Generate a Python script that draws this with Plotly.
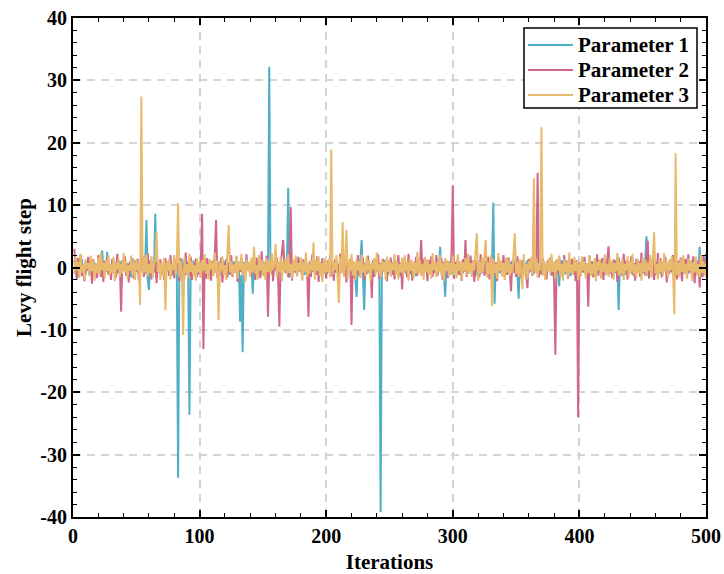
import plotly.graph_objects as go

iterations = list(range(1, 501))

param1 = [
    1.2,-0.8,0.5,-1.6,0.9,-0.3,1.4,-0.6,0.2,-1.1,0.7,-0.4,1.0,-0.9,0.3,-0.2,0.8,-1.3,0.6,-0.5,1.1,-0.7,2.7,-0.4,0.9,
    -0.6,2.5,-1.0,0.4,-0.8,1.3,-0.2,0.6,-1.4,0.8,-0.3,1.0,-0.9,0.2,-0.5,1.2,-1.1,0.7,-0.4,0.9,-1.6,0.5,-0.2,1.1,-0.7,
    0.4,-1.2,0.8,-0.5,1.5,-0.9,0.3,7.6,-1.8,-3.6,1.2,-0.6,0.9,-0.4,8.6,-1.5,0.6,-0.8,1.1,-0.3,0.7,-1.2,0.5,-0.6,1.0,
    -0.5,0.8,-1.3,0.4,-0.7,1.2,-0.9,-33.7,0.6,-1.0,1.3,-0.4,0.8,-1.2,0.5,-0.8,-23.6,0.9,-0.3,1.1,-0.6,0.4,-1.0,0.7,-0.2,
    0.6,-1.1,0.3,-0.7,1.0,-0.4,0.8,-1.5,0.5,-0.2,1.2,-0.8,0.4,-0.6,0.9,-1.3,0.2,-0.5,1.1,-0.9,0.6,-0.3,0.8,-1.2,0.4,
    -0.7,1.0,-0.5,0.3,-1.4,0.8,-8.7,-1.2,-13.6,0.9,-0.6,1.3,-0.4,0.7,-1.0,0.5,-4.2,0.8,-0.3,1.1,-0.8,0.4,-1.2,0.6,-0.5,
    0.9,-0.6,0.4,-1.1,32.2,-0.8,0.5,-1.3,1.0,-0.4,0.7,-0.9,0.3,-1.5,0.8,-0.2,1.2,-0.7,0.5,12.8,-1.6,0.6,-0.9,1.1,-0.4,
    0.7,-1.0,0.3,-0.6,1.3,-0.8,0.5,-1.2,0.9,-0.3,0.6,-1.4,1.0,-0.5,0.4,-0.9,1.1,-0.2,0.8,-1.1,0.5,-0.7,1.2,-0.4,0.6,
    -0.9,0.4,-0.6,1.0,-1.3,0.7,-0.2,1.1,-0.8,0.5,-1.0,0.3,-0.5,1.4,-0.9,0.6,-1.2,0.8,-0.3,1.0,-0.7,0.4,-1.5,-4.7,0.9,
    -0.5,1.2,4.4,-1.0,-6.8,0.8,-0.4,1.1,-0.9,0.6,-1.3,0.5,-0.2,0.9,-0.7,1.0,-1.4,-39.2,0.7,-0.6,1.2,-0.3,0.5,-1.1,0.8,
    -0.4,0.9,-1.2,0.6,-0.8,1.1,-0.3,0.7,-1.0,0.4,-0.6,1.3,-0.9,0.5,-0.2,1.0,-1.1,0.3,-0.7,0.8,-1.4,0.6,-0.5,1.2,-0.3,
    0.7,-1.0,0.4,-0.6,1.1,-0.8,0.3,-1.3,0.9,-0.4,0.6,-1.1,0.8,-0.2,3.3,-0.9,0.5,-1.2,-4.7,0.7,-0.5,1.0,-0.8,0.4,-1.1,
    0.9,-0.4,0.6,-1.2,1.0,-0.7,0.3,-0.9,1.3,-0.5,0.8,-1.0,0.4,-0.3,1.1,-0.8,0.5,-1.4,0.7,-0.2,0.9,-1.1,0.6,-0.6,1.2,
    -0.9,0.4,-0.5,1.0,-1.2,0.7,10.4,-5.8,0.8,-0.3,1.1,-0.9,0.5,-1.3,0.6,-0.4,1.2,-0.7,0.3,-1.0,0.9,-0.6,1.4,-0.8,0.5,
    -0.7,-5.0,1.0,-0.4,0.6,-1.1,0.8,-0.3,1.2,-0.9,0.5,-0.6,1.1,-1.0,0.4,-0.8,1.3,-0.5,0.7,-1.2,0.9,-0.2,0.6,-1.0,1.1,
    -0.5,0.8,-1.3,0.4,-0.7,1.0,-0.9,0.6,-3.0,0.3,1.2,-0.8,0.5,-1.1,0.9,-0.4,0.7,-1.4,1.0,-0.6,0.3,-0.9,1.1,-0.5,0.8,
    -1.0,0.6,-0.4,1.3,-0.8,0.5,-1.2,0.9,-0.3,0.7,-1.1,1.0,-0.6,0.4,-0.9,1.2,-0.5,0.8,-1.3,0.6,-0.2,1.1,-0.8,0.5,-1.0,
    0.7,-0.4,1.2,-0.9,0.6,-6.8,0.9,-0.5,1.1,-0.7,0.4,-1.2,0.8,-0.3,1.0,-0.9,0.5,-1.4,0.7,-0.6,1.3,-0.8,0.4,-1.1,0.9,
    -0.5,1.0,5.0,-1.3,0.8,-0.4,1.1,-0.9,0.6,-1.2,0.9,-0.3,0.7,-1.0,0.5,-0.8,1.2,-0.6,0.4,-1.1,0.9,-0.5,0.8,-1.3,0.6,
    -0.7,1.1,-0.4,0.8,-1.2,0.5,-0.9,1.3,-0.6,0.4,-1.0,0.9,-0.3,1.2,-0.8,0.6,-1.1,0.7,-0.5,3.3,-0.9,0.8,-1.4,0.6,2.2,
]

param2 = [
    3.0,0.8,-1.9,1.5,-0.6,2.1,-1.4,0.3,-2.2,1.0,-0.5,1.7,-1.1,0.6,-2.6,1.3,-0.8,0.4,-1.7,2.0,-0.3,-1.5,0.9,-2.3,1.1,
    -0.7,1.6,-1.2,0.5,-2.0,1.3,-0.4,0.9,-1.6,2.2,-0.9,0.4,-7.1,1.2,-0.5,1.8,-1.3,0.6,-2.4,1.0,-0.2,1.5,-1.8,0.7,-0.6,
    1.4,-2.1,0.8,-0.3,1.9,-1.5,0.6,-1.0,2.3,-0.7,1.1,-1.9,0.4,-0.8,1.6,-2.5,0.9,-0.4,1.3,-1.2,0.7,-2.0,1.5,-0.6,0.3,
    -1.4,2.0,-0.9,0.6,-1.7,1.2,-0.3,0.8,-2.2,1.5,-1.0,0.4,-1.6,2.4,-0.5,0.9,-1.3,1.7,-2.0,0.6,-0.8,1.4,-1.5,0.5,-1.1,
    1.2,8.6,-13.1,0.9,-1.8,1.5,-0.6,0.3,-2.1,1.0,-0.4,2.2,7.6,-1.7,0.8,-0.9,1.6,-2.4,0.5,-0.3,1.3,-1.6,0.7,-1.0,2.0,
    -1.5,0.6,-0.2,1.8,-2.3,0.9,-0.7,1.4,-1.1,0.4,-1.9,2.1,-0.5,0.8,-1.4,1.2,-0.9,0.3,-2.0,1.6,-0.6,1.0,-1.7,2.6,-0.4,
    0.7,-1.3,1.9,-7.9,0.5,-1.0,1.4,-2.2,0.8,-0.5,1.6,-1.8,-9.5,0.6,2.3,4.4,0.5,-0.9,1.1,-1.6,0.4,9.7,-2.1,1.2,-0.8,
    0.5,-1.4,1.7,-0.6,0.9,-2.0,1.3,-0.3,0.6,-1.1,-7.9,1.0,-1.5,2.1,-0.7,0.4,-1.2,1.8,-2.3,0.8,-0.4,1.5,-1.0,0.7,-1.8,
    1.1,-0.6,1.9,-1.4,0.5,-2.1,1.3,-0.8,0.4,-1.6,2.2,-0.5,0.9,-1.2,1.6,-2.4,0.7,-0.3,1.4,-9.2,1.0,-1.7,0.6,-0.9,2.0,
    -1.3,0.8,-0.4,1.5,-2.0,0.6,-1.1,1.9,-0.7,0.3,-4.9,1.2,-1.5,0.9,-0.5,2.1,-1.8,0.7,-1.0,1.4,-0.3,0.6,-2.2,1.1,-0.6,
    1.6,-1.2,0.4,-1.9,1.0,-0.5,2.0,-1.4,0.8,-3.5,1.3,-0.7,0.5,-1.6,2.2,-0.9,1.1,-2.1,0.6,-0.3,1.7,-1.3,0.9,-0.6,4.4,
    -1.0,1.4,-0.5,0.8,-2.2,1.2,-0.8,1.8,-1.5,0.4,-0.9,2.0,-1.3,0.7,-0.4,1.5,-2.0,0.9,-0.6,1.1,-1.7,0.5,-1.1,2.3,13.2,
    -1.8,0.9,-0.6,1.6,-1.2,0.4,-2.1,1.3,-0.7,4.4,-1.5,0.8,-0.4,1.9,-1.0,0.6,-2.3,1.2,-0.5,0.9,-1.6,2.1,-0.8,0.5,-1.3,
    1.0,-0.7,1.7,-1.9,0.6,-0.3,1.4,-1.1,0.8,-2.2,1.5,-0.5,0.9,-1.4,2.0,-0.8,0.4,-1.2,1.6,-0.6,-3.8,1.1,-0.9,0.7,-1.5,
    1.8,-0.4,0.9,-1.7,1.2,-0.8,0.5,-2.0,-3.3,1.4,-0.6,1.0,-1.3,2.2,-0.5,0.7,15.2,-1.6,0.8,-1.0,1.5,-0.7,0.4,-1.9,1.1,
    -0.6,1.6,-1.2,0.5,-2.1,-14.0,1.3,-0.9,1.8,-0.4,0.7,-1.5,2.0,-0.8,1.1,-1.8,0.6,-0.3,1.4,-1.1,0.9,-2.2,1.2,-24.0,0.8,
    -1.4,0.6,-0.8,1.7,-1.2,0.4,-6.3,1.9,-0.7,1.0,-1.6,0.5,-0.9,2.1,-1.3,0.8,-0.4,1.5,-2.0,0.9,-0.6,1.2,3.4,-1.0,0.7,
    -1.7,1.3,-0.5,0.9,-2.3,1.6,-1.0,0.4,-1.4,2.2,-0.8,1.1,-1.9,0.6,-0.3,1.8,-1.2,0.7,-2.1,1.4,-0.6,1.0,-1.5,2.4,-0.9,
    0.5,-1.3,1.9,4.3,-1.8,0.8,-0.4,1.2,-2.0,0.6,-1.1,2.3,-0.7,1.5,-1.6,0.9,-0.5,1.7,-2.4,0.4,-1.0,1.3,-0.8,2.0,-1.4,
    0.7,-1.9,1.1,-0.6,1.6,-2.2,0.9,-0.4,1.4,-1.7,2.1,-0.8,0.5,-1.3,1.8,-2.5,0.6,-1.0,1.2,-3.2,0.8,-1.5,2.0,-0.7,1.3,
]

param3 = [
    -1.0,1.8,-0.5,0.9,-1.6,2.2,-0.8,0.4,-1.9,1.3,-0.2,0.7,-1.4,1.9,-0.6,1.1,-2.1,0.5,-0.9,1.6,-1.2,2.4,-0.4,0.8,-1.7,
    1.2,-0.6,2.0,-1.3,0.5,-0.9,1.7,-2.2,0.8,-0.3,1.4,-1.5,0.6,-1.0,2.3,-0.7,1.1,-1.8,0.4,-0.5,1.9,-1.2,0.9,-2.0,1.3,
    -0.4,0.7,-6.0,27.4,-1.1,1.6,-0.8,2.1,-1.4,0.5,-0.9,1.8,-1.6,0.6,1.2,5.7,-0.7,1.0,-2.0,0.8,-1.3,1.5,-6.8,0.9,-0.5,
    1.4,-1.9,0.6,-0.4,2.0,-1.2,0.8,10.3,-1.5,1.1,-0.6,-10.8,1.7,-0.9,0.5,-1.8,2.2,-0.7,1.0,-1.3,0.4,-2.1,1.5,-0.8,0.9,
    -1.6,1.2,-0.5,2.1,-1.0,0.6,-1.9,1.4,-0.3,0.8,-1.4,2.4,-0.9,1.1,-8.4,0.7,-0.6,1.8,-1.2,0.4,-2.0,1.5,6.8,-0.8,1.0,
    -1.3,0.5,-0.9,1.9,-1.7,1.0,-0.4,2.2,-1.1,0.7,-2.3,1.3,-0.6,0.9,-1.5,1.6,-0.8,3.3,-1.0,0.4,-1.9,2.0,-0.5,1.2,-1.4,
    0.8,-2.0,1.5,-0.7,1.1,-1.2,2.3,-0.4,0.6,3.8,-1.6,0.9,-0.8,1.7,-2.2,1.0,-0.5,1.4,-1.1,2.1,-0.9,0.5,-1.8,1.3,-0.6,
    1.9,-1.3,0.7,-0.4,1.6,-2.1,0.9,-0.8,2.4,-1.5,0.6,-1.0,1.2,-0.6,4.0,-1.9,1.1,-0.5,1.8,-1.4,0.7,-2.3,1.5,-0.9,1.0,
    -0.7,1.3,-1.6,18.9,-1.2,0.8,-0.4,2.0,-1.0,-5.7,1.7,-0.9,7.3,-1.5,0.6,6.0,-1.8,1.1,-0.6,2.2,-1.3,0.9,-2.0,1.4,-0.5,
    1.0,-1.7,2.1,-0.8,0.5,-1.4,1.8,-0.6,1.2,-2.2,0.7,-0.3,1.5,-1.1,2.4,-0.9,0.6,-1.6,1.3,-0.5,0.9,-2.0,1.7,-0.7,1.1,
    -1.5,0.8,-0.4,2.2,-1.2,1.0,-1.9,0.6,-0.8,1.6,-1.3,2.0,-0.6,0.9,-2.1,1.4,-0.5,1.1,-1.7,0.7,-1.0,2.5,-0.9,1.2,-1.4,
    0.6,-2.0,1.7,-0.7,1.3,-1.1,0.5,-1.8,2.3,-0.4,0.9,-1.5,1.0,-0.8,2.0,-1.3,0.7,-2.2,1.5,-0.6,1.1,-1.4,0.8,-0.9,1.9,
    -1.2,0.6,-1.7,2.1,-0.5,1.0,-1.9,0.8,-0.6,1.5,-1.3,2.2,-0.8,0.7,-1.5,1.2,-0.4,1.9,5.5,-2.1,0.9,-1.0,1.6,-0.7,1.3,
    4.4,-1.6,0.8,-1.1,2.0,-6.2,1.4,-0.9,0.6,-1.8,2.3,-0.5,1.1,-1.4,0.7,-2.0,1.6,-0.8,1.2,-1.3,0.5,-0.9,1.8,5.5,-1.0,
    0.9,-1.5,1.3,-0.7,-3.5,2.1,-1.2,0.6,-1.9,1.0,-0.4,1.7,-1.1,14.3,-0.8,1.4,-1.6,0.7,-0.5,22.5,-1.3,1.1,-2.0,0.8,-0.6,
    1.5,-1.0,2.2,-0.7,0.9,-1.8,1.2,-0.5,1.9,-1.4,0.6,-2.1,1.3,-0.8,1.0,-1.6,2.4,-0.9,0.5,-1.2,1.7,-0.6,1.1,-2.0,0.8,
    -1.3,1.8,-0.5,1.0,-1.7,0.7,-0.9,2.0,-1.4,0.6,-1.1,1.5,-2.2,0.9,-0.4,1.3,-1.8,0.8,-0.7,2.1,-1.2,0.5,-1.5,1.6,-0.8,
    1.1,-1.9,0.7,-0.6,2.3,-1.3,0.9,-1.0,1.4,-2.0,0.6,-0.5,1.8,-1.5,1.0,-0.8,2.2,-1.1,0.5,-1.7,1.3,-0.9,0.7,-2.1,1.6,
    -0.7,1.2,-1.4,0.8,-0.5,2.0,-1.6,1.1,5.7,-1.0,0.6,-1.9,1.5,-0.8,1.0,-1.3,2.3,-0.6,0.9,-1.7,1.2,-0.4,1.8,-1.1,-7.5,
    18.3,-1.2,0.8,-1.6,1.3,-0.7,2.0,-1.0,0.6,-1.8,1.4,-0.5,1.1,-2.2,0.9,-0.8,1.7,-1.3,0.5,-1.5,2.1,-0.9,1.0,-1.4,0.7,
]

series_names = ["Parameter 1", "Parameter 2", "Parameter 3"]
series_colors = ["#4FAFC4", "#D0668C", "#E8BB6C"]
x_ticks = [0, 100, 200, 300, 400, 500]
x_ticktext = ["0", "100", "200", "300", "400", "500"]
y_ticks = [-40, -30, -20, -10, 0, 10, 20, 30, 40]
y_ticktext = ["-40", "-30", "-20", "-10", "0", "10", "20", "30", "40"]

FONT = "Liberation Serif, Times New Roman, serif"
X_RANGE = [0, 500]
Y_RANGE = [-40, 40]

fig = go.Figure()
for name, vals, col in zip(series_names, [param1, param2, param3], series_colors):
    fig.add_trace(go.Scatter(x=iterations, y=vals, mode="lines", name=name,
                             line=dict(color=col, width=2), showlegend=False))

tick_font = dict(family=FONT, size=20, color="black", weight="bold")
title_font = dict(family=FONT, size=21, color="black", weight="bold")

common = dict(
    showline=True, linecolor="black", linewidth=2, mirror=True,
    ticks="inside", ticklen=7, tickwidth=1.5, tickcolor="black",
    zeroline=False,
)

fig.update_layout(
    xaxis=dict(range=X_RANGE, tickvals=x_ticks, ticktext=x_ticktext, tickfont=tick_font,
               showgrid=True, gridcolor="#d4d4d4", gridwidth=1.5, griddash="8px,6px",
               minor=dict(dtick=20, ticks="inside", ticklen=4, tickwidth=1.2, tickcolor="black", showgrid=False),
               title=dict(text="Iterations", standoff=8, font=title_font), **common),
    yaxis=dict(range=Y_RANGE, tickvals=y_ticks, ticktext=y_ticktext, tickfont=tick_font,
               showgrid=True, gridcolor="#d4d4d4", gridwidth=1.5, griddash="8px,6px",
               minor=dict(dtick=2, ticks="inside", ticklen=4, tickwidth=1.2, tickcolor="black", showgrid=False),
               title=dict(text="Levy flight step", standoff=3, font=title_font), **common),
    xaxis2=dict(range=X_RANGE, overlaying="x", side="top", anchor="y", tickvals=x_ticks,
                showticklabels=False, showgrid=False, ticks="inside", ticklen=7, tickwidth=1.5,
                tickcolor="black", zeroline=False, showline=False,
                minor=dict(dtick=20, ticks="inside", ticklen=4, tickwidth=1.2, tickcolor="black", showgrid=False)),
    yaxis2=dict(range=Y_RANGE, overlaying="y", side="right", anchor="x", tickvals=y_ticks,
                showticklabels=False, showgrid=False, ticks="inside", ticklen=7, tickwidth=1.5,
                tickcolor="black", zeroline=False, showline=False,
                minor=dict(dtick=2, ticks="inside", ticklen=4, tickwidth=1.2, tickcolor="black", showgrid=False)),
)

# invisible helper trace so the mirror axes are drawn
fig.add_trace(go.Scatter(x=[None], y=[None], xaxis="x2", yaxis="y2", showlegend=False,
                         hoverinfo="skip"))

# custom legend (pixel layout converted to paper coordinates)
L, T, W, H = 73, 18, 633, 499
def px(x):
    return (x - L) / W
def py(y):
    return 1 - (y - T) / H

shapes = [dict(type="rect", xref="paper", yref="paper",
               x0=px(524), x1=px(697), y0=py(108), y1=py(28),
               line=dict(color="black", width=1.5), fillcolor="white", layer="above")]
annotations = []
row_y = [45, 70, 95]
for name, col, ry in zip(series_names, series_colors, row_y):
    shapes.append(dict(type="line", xref="paper", yref="paper",
                       x0=px(528), x1=px(573), y0=py(ry), y1=py(ry),
                       line=dict(color=col, width=2), layer="above"))
    annotations.append(dict(text=name, xref="paper", yref="paper", x=px(576), y=py(ry),
                            xanchor="left", yanchor="middle", showarrow=False,
                            font=dict(family=FONT, size=21, color="black", weight="bold")))

fig.update_layout(
    width=724, height=574,
    margin=dict(l=L, r=724 - L - W, t=T, b=574 - T - H, autoexpand=False),
    paper_bgcolor="white", plot_bgcolor="white",
    font=dict(family=FONT, size=20, color="black", weight="bold"),
    showlegend=False,
    shapes=shapes, annotations=annotations,
)

fig.write_html("out.html")
